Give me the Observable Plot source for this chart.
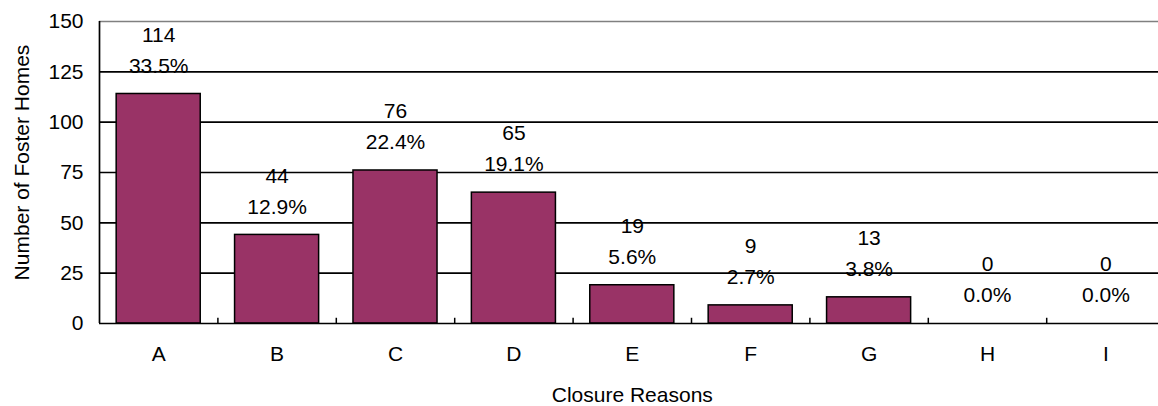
<!DOCTYPE html>
<html>
<head>
<meta charset="utf-8">
<script src="https://cdn.jsdelivr.net/npm/d3@7"></script>
<script src="https://cdn.jsdelivr.net/npm/@observablehq/plot@0.6"></script>
<style>
  html, body { margin: 0; padding: 0; background: white; }
</style>
</head>
<body>
<div id="chart"></div>
<script>
const categories = ["A", "B", "C", "D", "E", "F", "G", "H", "I"];
const counts = [114, 44, 76, 65, 19, 9, 13, 0, 0];
const percentLabels = ["33.5%", "12.9%", "22.4%", "19.1%", "5.6%", "2.7%", "3.8%", "0.0%", "0.0%"];
const yTicks = [0, 25, 50, 75, 100, 125, 150];
const xTitle = "Closure Reasons";
const yTitle = "Number of Foster Homes";

const data = categories.map((c, i) => ({cat: c, count: counts[i], pct: percentLabels[i]}));

const W = 1158, H = 406;
const mL = 99, mR = -6.6, mT = 21, mB = 83;
const step = (W - mL - mR) / categories.length;
const font = "'Liberation Sans', Arial, sans-serif";

const chart = Plot.plot({
  width: W,
  height: H,
  marginLeft: mL,
  marginRight: mR,
  marginTop: mT,
  marginBottom: mB,
  style: {fontFamily: font, fontSize: "21px", color: "black", background: "white"},
  x: {domain: categories, paddingInner: 0.29, paddingOuter: 0.145, round: false, axis: null},
  y: {domain: [0, 150], axis: null},
  marks: [
    Plot.text(data, {x: "cat", y: "count", text: d => String(d.count), dy: -59, lineAnchor: "middle", fill: "black", fontSize: 21}),
    Plot.text(data, {x: "cat", y: "count", text: "pct", dy: -28, lineAnchor: "middle", fill: "black", fontSize: 21}),
    Plot.ruleY(yTicks.filter(v => v > 0 && v < 150), {stroke: "black", strokeWidth: 1.7}),
    Plot.ruleY([yTicks[yTicks.length - 1]], {stroke: "#808080", strokeWidth: 1.7}),
    Plot.barY(data, {x: "cat", y: "count", fill: "#993366", stroke: "black", strokeWidth: 1.5}),
    Plot.ruleY([0], {stroke: "black", strokeWidth: 1.7}),
    Plot.ruleX(categories.slice(1), {y1: 0, y2: 2.6, dx: -step / 2, stroke: "black", strokeWidth: 1.5}),
    Plot.ruleX([categories[0]], {y1: 0, y2: 150, dx: -step / 2, stroke: "black", strokeWidth: 1.7}),
    Plot.axisY({ticks: yTicks, tickSize: 0, tickPadding: 16, label: null, fontSize: 21, fill: "black"}),
    Plot.axisX({tickSize: 0, tickPadding: 23, label: null, fontSize: 21, fill: "black"}),
    Plot.text([xTitle], {text: d => d, frameAnchor: "bottom", dy: 72, lineAnchor: "middle", textAnchor: "middle", fontSize: 21, fill: "black"}),
    Plot.text([yTitle], {text: d => d, frameAnchor: "left", rotate: -90, dx: -77, dy: -10, lineAnchor: "middle", textAnchor: "middle", fontSize: 21, fill: "black"})
  ]
});

document.getElementById("chart").appendChild(chart);
</script>
</body>
</html>
